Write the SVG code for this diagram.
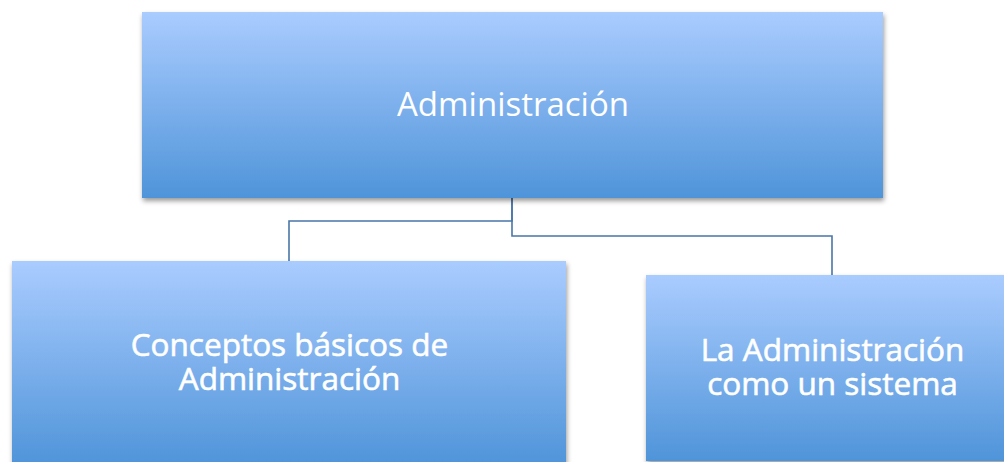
<svg xmlns="http://www.w3.org/2000/svg" width="1004" height="462" viewBox="0 0 1004 462">
<defs>
<linearGradient id="g" x1="0" y1="0" x2="0" y2="1">
<stop offset="0" stop-color="#AACCFF"/>
<stop offset="1" stop-color="#4F94D9"/>
</linearGradient>
<filter id="sh" x="-5%" y="-5%" width="110%" height="115%">
<feDropShadow dx="1" dy="3" stdDeviation="2.5" flood-color="#000" flood-opacity="0.4"/>
</filter>
</defs>
<style>
.box{fill:url(#g);filter:url(#sh)}
.t{font-family:"Open Sans","Noto Sans","Liberation Sans",sans-serif;fill:#fff;text-anchor:middle}
.b{font-size:31.5px;stroke:#fff;stroke-width:0.6px}
.c{fill:none;stroke:#4A76A8;stroke-width:1.6}
</style>
<rect width="1004" height="462" fill="#fff"/>
<g id="connectors">
<path class="c" d="M512,198 V221 H289 V262"/>
<path class="c" d="M512,198 V236 H832 V276"/>
</g>
<g id="node-top">
<rect class="box" x="142" y="12" width="741" height="186"/>
<text class="t" x="513" y="116" font-size="33">Administración</text>
</g>
<g id="node-left">
<rect class="box" x="12" y="261" width="554" height="205"/>
<text class="t b" x="289.5" y="356">Conceptos básicos de</text>
<text class="t b" x="289.5" y="390">Administración</text>
</g>
<g id="node-right">
<rect class="box" x="646" y="275" width="362" height="186"/>
<text class="t b" x="832.5" y="361">La Administración</text>
<text class="t b" x="832.5" y="395">como un sistema</text>
</g>
</svg>
